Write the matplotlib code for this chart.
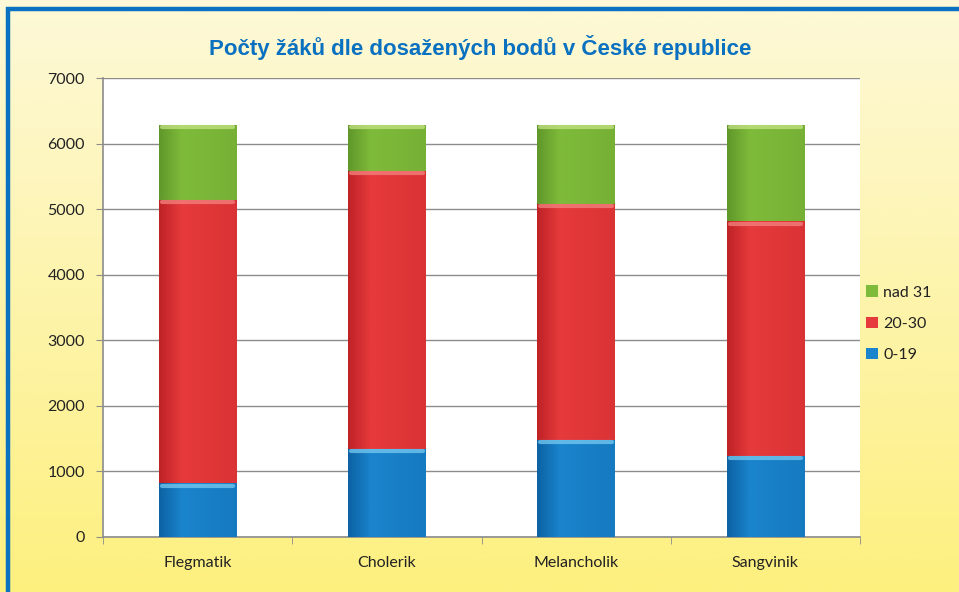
import numpy as np
import matplotlib
matplotlib.use("Agg")
import matplotlib.pyplot as plt
from matplotlib.patches import Rectangle
from matplotlib.colors import LinearSegmentedColormap

# --- data ---
categories = ["Flegmatik", "Cholerik", "Melancholik", "Sangvinik"]
series_names = ["0-19", "20-30", "nad 31"]
low = [820, 1340, 1480, 1235]
mid = [4320, 4240, 3600, 3580]
high = [1150, 710, 1210, 1470]
y_ticks = [0, 1000, 2000, 3000, 4000, 5000, 6000, 7000]
title = "Počty žáků dle dosažených bodů v České republice"

# --- colours: (dark edge, main, light highlight) ---
SERIES_COLORS = [
    ("#0a5c9c", "#1a84cc", "#7fd0f5"),  # blue
    ("#b81e22", "#e63a3c", "#f58a86"),  # red
    ("#5a9128", "#7fbb3a", "#c9e68a"),  # green
]
TITLE_COLOR = "#0a70c0"
BORDER_COLOR = "#0a72c0"
TEXT_COLOR = "#222222"
GRID_COLOR = "#8c8c8c"

W, H = 959, 592
fig = plt.figure(figsize=(W / 100, H / 100), dpi=100)

# --- yellow gradient background ---
bg = fig.add_axes([0, 0, 1, 1], zorder=-10)
grad = np.linspace(0, 1, 256).reshape(-1, 1)
bg_cmap = LinearSegmentedColormap.from_list("bg", ["#fdf07f", "#fdf4ac", "#fdf9d8"])
bg.imshow(grad, aspect="auto", cmap=bg_cmap, origin="lower", extent=[0, 1, 0, 1])
bg.set_axis_off()
# blue frame (right and bottom edges fall outside the picture)
fig.patches.append(Rectangle((7.5 / W, -0.05), 1.2, 1.05 - 9 / H, transform=fig.transFigure,
                             fill=False, edgecolor=BORDER_COLOR, linewidth=3.2, zorder=5))

# --- plot area ---
left, right, top, bottom = 103, 860, 78, 537
ax = fig.add_axes([left / W, 1 - bottom / H, (right - left) / W, (bottom - top) / H])
ax.set_facecolor("white")
x = np.arange(len(categories))
ax.set_xlim(-0.5, len(categories) - 0.5)
ax.set_ylim(0, 7000)
ax.set_yticks(y_ticks)
ax.set_xticks(x)
ax.set_xticklabels(categories)
ax.set_xticks(np.arange(len(categories) + 1) - 0.5, minor=True)
ax.yaxis.grid(True, color=GRID_COLOR, linewidth=1.0)
ax.set_axisbelow(True)
for s in ["top", "right"]:
    ax.spines[s].set_visible(False)
for s in ["left", "bottom"]:
    ax.spines[s].set_color(GRID_COLOR)
    ax.spines[s].set_linewidth(1.2)
ax.tick_params(axis="y", length=5, color=GRID_COLOR, labelsize=11.5, labelcolor=TEXT_COLOR, pad=8)
ax.tick_params(axis="x", which="major", length=0, labelsize=11.5, labelcolor=TEXT_COLOR, pad=14)
ax.tick_params(axis="x", which="minor", length=5, color=GRID_COLOR)
for lbl in ax.get_xticklabels() + ax.get_yticklabels():
    lbl.set_fontfamily(["Lato", "DejaVu Sans"])

# horizontal shading profile for the 3D-looking bars
prof = np.concatenate([np.linspace(0.15, 1.0, 30), np.linspace(1.0, 0.75, 70)])
bar_w = 0.41
bottoms = np.zeros(len(categories))
handles = []
for (dark, main, light), name, vals in zip(SERIES_COLORS, series_names, [low, mid, high]):
    cmap = LinearSegmentedColormap.from_list(name, [dark, main])
    bars = ax.bar(x, vals, bar_w, bottom=bottoms, color=main, edgecolor="none", zorder=2, label=name)
    for rect in bars:
        bx, by = rect.get_x(), rect.get_y()
        bw, bh = rect.get_width(), rect.get_height()
        im = ax.imshow(np.tile(prof, (2, 1)), cmap=cmap, vmin=0, vmax=1, aspect="auto",
                       extent=[bx, bx + bw, by, by + bh], zorder=3, interpolation="bilinear")
        im.set_clip_path(rect)
        # light rim at the top of each segment
        ax.plot([bx + bw * 0.04, bx + bw * 0.96], [by + bh - 35, by + bh - 35],
                color=light, linewidth=3, solid_capstyle="round", zorder=4, alpha=0.7)
    handles.append(bars)
    bottoms += np.array(vals)
ax.set_xlim(-0.5, len(categories) - 0.5)
ax.set_ylim(0, 7000)

# --- legend (reverse order, as in the reference) ---
leg = fig.legend([handles[2], handles[1], handles[0]], [series_names[2], series_names[1], series_names[0]],
                 loc="upper left", bbox_to_anchor=(852 / W, 1 - 271 / H), frameon=False,
                 handlelength=0.75, handleheight=0.75, handletextpad=0.3, labelspacing=1.05,
                 prop={"family": ["Lato", "DejaVu Sans"], "size": 11.5})
for t in leg.get_texts():
    t.set_color(TEXT_COLOR)

# --- title ---
fig.text(480 / W, 1 - 47 / H, title, ha="center", va="center", color=TITLE_COLOR,
         fontsize=16, fontweight="bold", family=["Liberation Sans", "DejaVu Sans"])

fig.savefig("out.png", dpi=100)
